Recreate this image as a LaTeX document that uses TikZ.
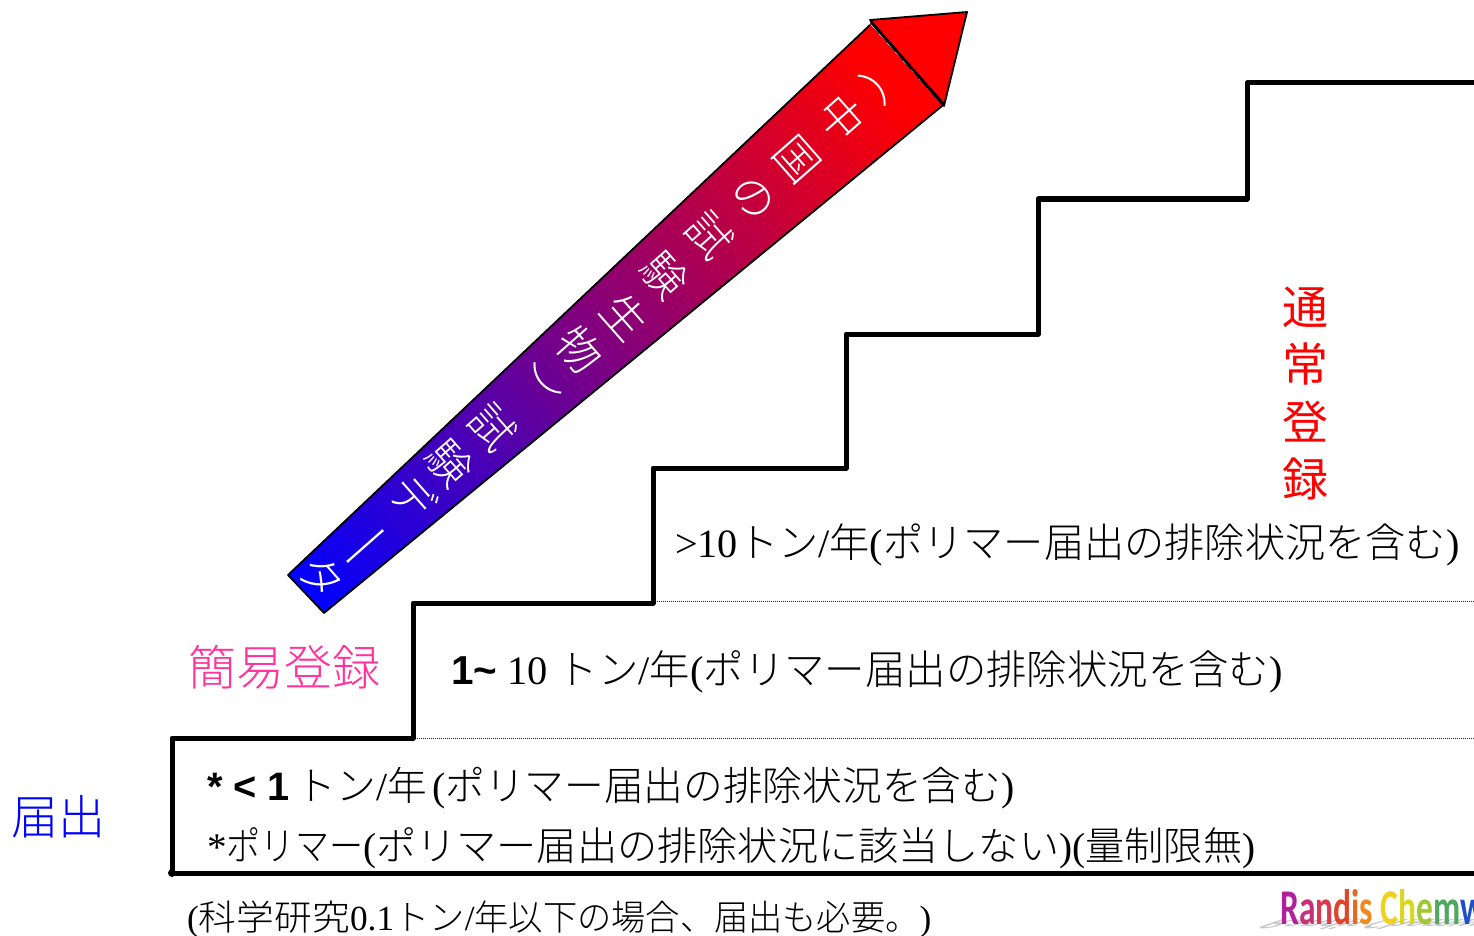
\documentclass[tikz,border=0pt]{standalone}
\usepackage{fontspec}
\setmainfont{Liberation Serif}
\newfontfamily\cjk{Noto Sans CJK JP}[UprightFont=* Light]
\newfontfamily\cjkr{Noto Sans CJK JP}
\newfontfamily\lsans{Liberation Sans}
\newfontfamily\logo{Carlito}[BoldFont=* Bold]
\definecolor{pinkj}{RGB}{255,51,153}
\tikzset{
  stair/.style={line width=5pt,black,line join=round,line cap=round},
  dotline/.style={black!85,line width=0.8pt,dash pattern=on 0.9pt off 1.1pt},
  lab/.style={inner sep=0pt,anchor=west},
  arrowch/.style={inner sep=0pt,white,rotate=-48.6,font=\cjk\fontsize{44}{44}\selectfont},
  arrowchv/.style={inner sep=0pt,white,rotate=-138.6,font=\cjk\fontsize{44}{44}\selectfont},
  stackch/.style={inner sep=0pt,red,font=\cjkr\fontsize{46}{46}\selectfont},
}
\begin{document}
\begin{tikzpicture}[x=1pt,y=-1pt]
\useasboundingbox (0,0) rectangle (1474,936);
% arrow
\begin{scope}
  \clip (288,575) -- (870,25) -- (942,106) -- (324,613) -- cycle;
  \foreach \i in {0,...,156}{
    \pgfmathtruncatemacro{\pc}{min(100,\i*100/156)}
    \pgfmathsetmacro{\st}{\i*5-10}
    \fill[red!\pc!blue,shift={(305,594)},rotate=41.4] (\st,-120) rectangle (900,120);
  }
\end{scope}
\draw[line width=1.8pt,line join=round] (870,25) -- (288,575) -- (324,613) -- (942,106);
\draw[line width=1.8pt,fill=red,line join=round] (870,20) -- (967,12) -- (944,106) -- cycle;
\draw[line width=3pt] (871,22) -- (944,105);
% arrow text
\node[arrowchv] (a1) at (886,79) {（};
\node[arrowch] (a2) at (842,118) {中};
\node[arrowch] (a3) at (797,160) {国};
\node[arrowch] (a4) at (753,198) {の};
\node[arrowch] (a5) at (710,235) {試};
\node[arrowch] (a6) at (665,275) {験};
\node[arrowch] (a7) at (625,316) {生};
\node[arrowch] (a8) at (580,350) {物};
\node[arrowchv] (a9) at (534,391) {）};
\node[arrowch] (a10) at (493,427) {試};
\node[arrowch] (a11) at (450,463) {験};
\node[arrowch] (a12) at (413,497) {デ};
\node[arrowchv] (a13) at (360,541) {\scalebox{1.4}[1]{ー}};
\node[arrowch] (a14) at (322,577) {タ};
% stairs
\draw[dotline] (655,601) -- (1474,601);
\draw[dotline] (415,738) -- (1474,738);
\draw[stair] (1480,83) -- (1247,83) -- (1247,199) -- (1038,199) -- (1038,334) -- (846,334) -- (846,468) -- (653,468) -- (653,603) -- (413,603) -- (413,738) -- (172,738) -- (172,873) -- (1480,873);
% labels
\node[stackch] (r1) at (1305,307) {通};
\node[stackch] (r2) at (1305,364) {常};
\node[stackch] (r3) at (1305,422) {登};
\node[stackch] (r4) at (1305,479) {録};
\node[inner sep=0pt,anchor=west,text=pinkj,font=\cjk\fontsize{48}{48}\selectfont] (k) at (188,667) {簡易登録};
\node[inner sep=0pt,anchor=west,text=blue,font=\cjk\fontsize{47}{47}\selectfont] (t) at (11,817) {届出};
\node[lab,font=\fontsize{40.2}{40}\selectfont] (l1) at (675,545) {>10{\cjk トン}/{\cjk 年}({\cjk ポリマー届出の排除状況を含む})};
\node[lab,font=\fontsize{40.4}{40}\selectfont] (l2) at (451,672) {{\lsans\bfseries 1\textasciitilde} 10 {\cjk トン}/{\cjk 年}({\cjk ポリマー届出の排除状況を含む})};
\node[lab,font=\fontsize{39.7}{40}\selectfont] (l3) at (207,788) {{\lsans\bfseries * < 1}\hspace{7pt}{\cjk トン}/{\cjk 年}\hspace{5pt}({\cjk ポリマー届出の排除状況を含む})};
\node[lab,font=\fontsize{39.2}{40}\selectfont] (l4) at (207,848) {*\scalebox{.87}[1]{\cjk ポリマー}(\scalebox{1.025}[1]{\cjk ポリマー届出の排除状況に該当しない})({\cjk 量制限無})};
\node[lab,font=\fontsize{35.3}{36}\selectfont] (l5) at (187,919) {(\scalebox{1.07}[1]{\cjk 科学研究}0.1{\cjk トン}/\scalebox{.97}[1]{\cjk 年以下の場合、届出も必要。})};
% logo
\begin{scope}
  \clip (1260,880) rectangle (1474,936);
  \node[inner sep=0pt,anchor=west,text=black!22,xscale=0.72,yscale=-0.3,xslant=-1.2,font=\logo\bfseries\fontsize{48}{48}\selectfont] (ls) at (1266,924) {Randis Chemw};
  \node[inner sep=0pt,anchor=west,xscale=0.67,font=\logo\bfseries\fontsize{50}{50}\selectfont] (lg) at (1280,907) {\textcolor[RGB]{176,32,154}{R}\textcolor[RGB]{200,48,122}{a}\textcolor[RGB]{216,58,80}{n}\textcolor[RGB]{224,69,44}{d}\textcolor[RGB]{229,106,32}{i}\textcolor[RGB]{238,138,32}{s} \textcolor[RGB]{242,208,32}{C}\textcolor[RGB]{216,216,32}{h}\textcolor[RGB]{160,200,48}{e}\textcolor[RGB]{80,168,96}{m}\textcolor[RGB]{32,80,200}{w}};
\end{scope}
\fill (172,873) circle (4pt);
\end{tikzpicture}
\end{document}
